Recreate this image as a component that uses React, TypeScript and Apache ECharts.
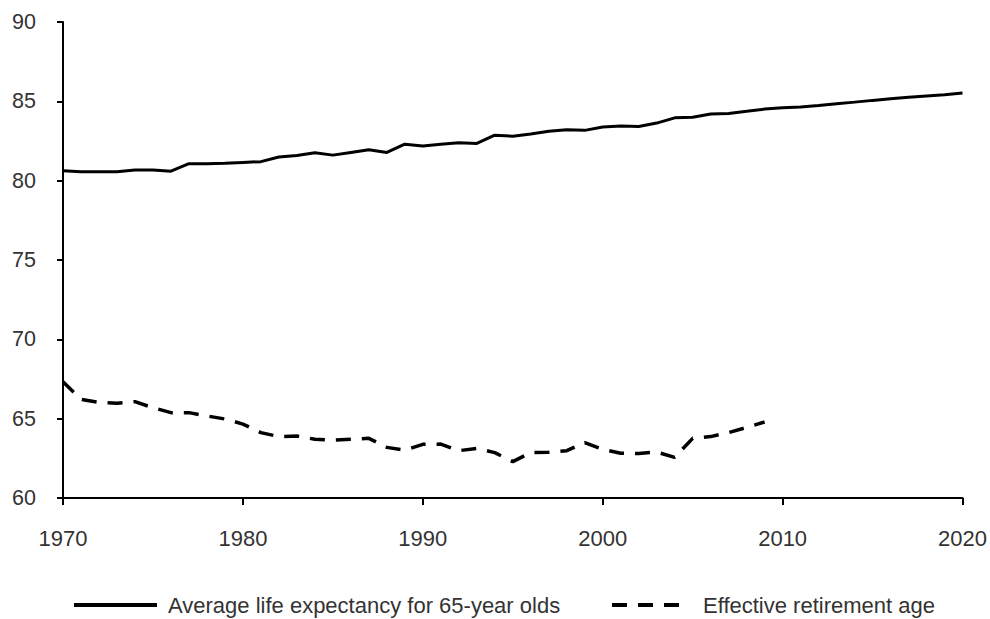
import React, { useEffect, useRef } from "react";
import * as echarts from "echarts";

const lifeYears = [
  1970, 1971, 1972, 1973, 1974, 1975, 1976, 1977, 1978, 1979,
  1980, 1981, 1982, 1983, 1984, 1985, 1986, 1987, 1988, 1989,
  1990, 1991, 1992, 1993, 1994, 1995, 1996, 1997, 1998, 1999,
  2000, 2001, 2002, 2003, 2004, 2005, 2006, 2007, 2008, 2009,
  2010, 2011, 2012, 2013, 2014, 2015, 2016, 2017, 2018, 2019, 2020,
];
const lifeExpectancy = [
  80.62, 80.56, 80.56, 80.56, 80.67, 80.67, 80.6, 81.07, 81.07, 81.1,
  81.15, 81.2, 81.49, 81.59, 81.76, 81.61, 81.78, 81.95, 81.78, 82.3,
  82.18, 82.3, 82.39, 82.35, 82.87, 82.8, 82.94, 83.12, 83.21, 83.17,
  83.38, 83.44, 83.42, 83.63, 83.96, 84.0, 84.2, 84.24, 84.37, 84.51,
  84.6, 84.64, 84.74, 84.85, 84.95, 85.06, 85.16, 85.25, 85.33, 85.41, 85.52,
];
const retirementYears = [
  1970, 1971, 1972, 1973, 1974, 1975, 1976, 1977, 1978, 1979,
  1980, 1981, 1982, 1983, 1984, 1985, 1986, 1987, 1988, 1989,
  1990, 1991, 1992, 1993, 1994, 1995, 1996, 1997, 1998, 1999,
  2000, 2001, 2002, 2003, 2004, 2005, 2006, 2007, 2008, 2009,
];
const retirementAge = [
  67.33, 66.22, 66.03, 65.97, 66.07, 65.69, 65.38, 65.38, 65.17, 64.98,
  64.66, 64.12, 63.87, 63.91, 63.7, 63.65, 63.7, 63.76, 63.19, 63.02,
  63.38, 63.4, 62.98, 63.13, 62.86, 62.29, 62.86, 62.88, 62.98, 63.49,
  63.07, 62.82, 62.8, 62.9, 62.56, 63.76, 63.87, 64.12, 64.45, 64.79,
];
const seriesNames = ["Average life expectancy for 65-year olds", "Effective retirement age"];

const FONT = "'Liberation Sans', Arial, sans-serif";
const TEXT = "#333333";

export default function App() {
  const ref = useRef<HTMLDivElement>(null);
  useEffect(() => {
    if (!ref.current) return;
    const chart = echarts.init(ref.current, null, { renderer: "svg" });
    chart.setOption({
      animation: false,
      backgroundColor: "#ffffff",
      grid: { left: 63, right: 27, top: 22, bottom: 121, containLabel: false },
      xAxis: {
        type: "value",
        min: 1970,
        max: 2020,
        interval: 10,
        axisLine: { show: true, lineStyle: { color: "#000", width: 2 } },
        axisTick: { show: true, inside: false, length: 7, lineStyle: { color: "#000", width: 2 } },
        splitLine: { show: false },
        axisLabel: {
          margin: 29,
          fontSize: 22,
          color: TEXT,
          fontFamily: FONT,
          formatter: (v: number) => String(v),
        },
      },
      yAxis: {
        type: "value",
        min: 60,
        max: 90,
        interval: 5,
        axisLine: { show: true, lineStyle: { color: "#000", width: 2 } },
        axisTick: { show: true, inside: false, length: 6, lineStyle: { color: "#000", width: 2 } },
        splitLine: { show: false },
        axisLabel: { margin: 27, fontSize: 21.5, color: TEXT, fontFamily: FONT },
      },
      legend: [
        {
          data: [seriesNames[0]],
          left: 72,
          top: 594,
          padding: 0,
          itemWidth: 83,
          itemHeight: 14,
          itemStyle: { opacity: 0 },
          lineStyle: { width: 4 },
          textStyle: {
            fontSize: 22,
            lineHeight: 22,
            color: TEXT,
            fontFamily: FONT,
            padding: [0, 0, 0, 6],
          },
        },
        {
          data: [seriesNames[1]],
          left: 610,
          top: 594,
          padding: 0,
          itemWidth: 67,
          itemHeight: 14,
          itemStyle: { opacity: 0 },
          lineStyle: { width: 4 },
          textStyle: {
            fontSize: 22,
            lineHeight: 22,
            color: TEXT,
            fontFamily: FONT,
            padding: [0, 0, 0, 19],
          },
        },
      ],
      series: [
        {
          name: seriesNames[0],
          type: "line",
          showSymbol: false,
          symbol: "none",
          data: lifeYears.map((y, i) => [y, lifeExpectancy[i]]),
          lineStyle: { color: "#000", width: 3 },
          itemStyle: { color: "#000" },
        },
        {
          name: seriesNames[1],
          type: "line",
          showSymbol: false,
          symbol: "none",
          data: retirementYears.map((y, i) => [y, retirementAge[i]]),
          lineStyle: { color: "#000", width: 3.5, type: [15, 11] },
          itemStyle: { color: "#000" },
        },
      ],
    });
    return () => chart.dispose();
  }, []);
  return (
    <div
      ref={ref}
      style={{ position: "fixed", left: 0, top: 0, width: 990, height: 619, background: "#fff" }}
    />
  );
}
